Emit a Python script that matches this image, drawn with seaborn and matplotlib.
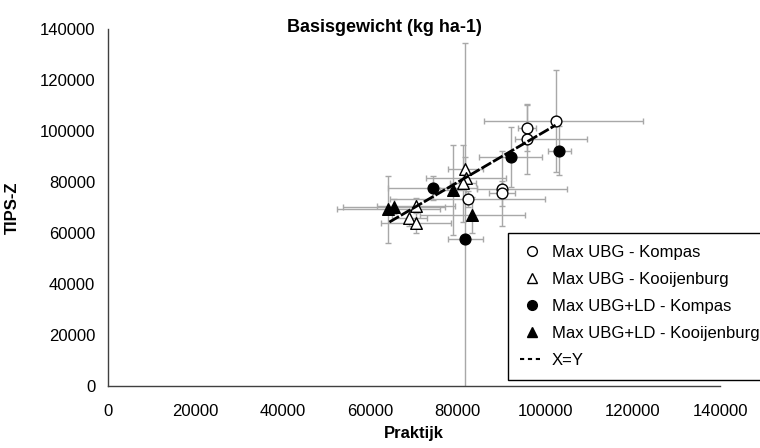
import matplotlib
matplotlib.use("Agg")
import matplotlib.pyplot as plt
from matplotlib.lines import Line2D
import seaborn as sns

# ---------------- data ----------------
# Max UBG - Kompas (open circles)
ubg_kompas_x = [102400, 95900, 95900, 90100, 90100, 82300]
ubg_kompas_y = [103900, 101400, 97000, 77400, 75700, 73400]
ubg_kompas_xerr_lo = [16300, 2000, 2800, 5600, 3000, 17800]
ubg_kompas_xerr_hi = [19900, 2000, 13600, 14900, 3000, 17800]
ubg_kompas_yerr = [20000, 9000, 13700, 14700, 5000, 3000]

# Max UBG - Kooijenburg (open triangles)
ubg_kooij_x = [81700, 81900, 81200, 70500, 68900, 70500]
ubg_kooij_y = [85100, 81600, 79600, 70800, 65900, 64200]
ubg_kooij_xerr = [4000, 9200, 3000, 9000, 4000, 8000]
ubg_kooij_yerr = [5000, 3000, 15000, 3000, 3000, 4000]

# Max UBG+LD - Kompas (filled circles)
ld_kompas_x = [103300, 92100, 74300, 81700]
ld_kompas_y = [92400, 90000, 77700, 57800]
ld_kompas_xerr = [2600, 7100, 10100, 4000]
ld_kompas_yerr = [9500, 11800, 4700, 76700]

# Max UBG+LD - Kooijenburg (filled triangles)
ld_kooij_x = [64200, 65500, 78900, 83400]
ld_kooij_y = [69400, 70400, 77000, 67200]
ld_kooij_xerr = [11700, 11700, 3000, 12100]
ld_kooij_yerr = [13200, 3000, 17600, 7000]

# X=Y reference line
xy_line = [64400, 102400]

x_ticks = [0, 20000, 40000, 60000, 80000, 100000, 120000, 140000]
y_ticks = [0, 20000, 40000, 60000, 80000, 100000, 120000, 140000]

labels = ["Max UBG - Kompas", "Max UBG - Kooijenburg",
          "Max UBG+LD - Kompas", "Max UBG+LD - Kooijenburg", "X=Y"]

# ---------------- figure ----------------
sns.set_style("white")
plt.rcParams["font.family"] = ["Liberation Sans", "DejaVu Sans"]
plt.rcParams["font.size"] = 12
plt.rcParams["text.color"] = "black"
plt.rcParams["axes.labelcolor"] = "black"
plt.rcParams["xtick.color"] = "black"
plt.rcParams["ytick.color"] = "black"

fig = plt.figure(figsize=(7.6, 4.48), dpi=100)
ax = fig.add_axes([107.7 / 760, 1 - 386.3 / 448, (720 - 107.7) / 760, (386.3 - 29.3) / 448])

ecol = "#a8a8a8"
ekw = dict(fmt="none", ecolor=ecol, elinewidth=1.0, capsize=2.5, capthick=1.0, zorder=1)
ax.errorbar(ubg_kompas_x, ubg_kompas_y,
            xerr=[ubg_kompas_xerr_lo, ubg_kompas_xerr_hi],
            yerr=ubg_kompas_yerr, **ekw)
ax.errorbar(ubg_kooij_x, ubg_kooij_y, xerr=ubg_kooij_xerr, yerr=ubg_kooij_yerr, **ekw)
ax.errorbar(ld_kompas_x, ld_kompas_y, xerr=ld_kompas_xerr, yerr=ld_kompas_yerr, **ekw)
ax.errorbar(ld_kooij_x, ld_kooij_y, xerr=ld_kooij_xerr, yerr=ld_kooij_yerr, **ekw)

sns.scatterplot(x=ubg_kompas_x, y=ubg_kompas_y, marker="o", s=60,
                facecolor="white", edgecolor="black", linewidth=1.0, ax=ax, zorder=3)
sns.scatterplot(x=ubg_kooij_x, y=ubg_kooij_y, marker="^", s=70,
                facecolor="white", edgecolor="black", linewidth=1.0, ax=ax, zorder=3)
sns.scatterplot(x=ld_kompas_x, y=ld_kompas_y, marker="o", s=60,
                facecolor="black", edgecolor="black", linewidth=1.0, ax=ax, zorder=3)
sns.scatterplot(x=ld_kooij_x, y=ld_kooij_y, marker="^", s=70,
                facecolor="black", edgecolor="black", linewidth=1.0, ax=ax, zorder=3)

sns.lineplot(x=xy_line, y=xy_line, color="black", linewidth=2.0, ax=ax, zorder=4)
ax.lines[-1].set_dashes([4, 0.8])

ax.set_xlim(0, 140000)
ax.set_ylim(0, 140000)
ax.set_xticks(x_ticks)
ax.set_yticks(y_ticks)
ax.set_xticklabels([str(v) for v in x_ticks])
ax.set_yticklabels([str(v) for v in y_ticks])
for s in ["top", "right"]:
    ax.spines[s].set_visible(False)
for s in ["left", "bottom"]:
    ax.spines[s].set_color("#404040")
    ax.spines[s].set_linewidth(1.0)
ax.tick_params(axis="both", which="major", direction="out", length=4, width=1,
               color="#404040", labelcolor="black", labelsize=12, pad=5)
ax.tick_params(axis="x", pad=9)

ax.set_xlabel("Praktijk", fontweight="bold", fontsize=12, labelpad=5)
ax.set_ylabel("TIPS-Z", fontweight="bold", fontsize=12, labelpad=14)
fig.text(384 / 760, 1 - 27 / 448, "Basisgewicht (kg ha-1)", ha="center", va="center",
         fontweight="bold", fontsize=13)

handles = [
    Line2D([], [], linestyle="none", marker="o", markersize=7, markerfacecolor="white",
           markeredgecolor="black", markeredgewidth=1.0),
    Line2D([], [], linestyle="none", marker="^", markersize=7, markerfacecolor="white",
           markeredgecolor="black", markeredgewidth=1.0),
    Line2D([], [], linestyle="none", marker="o", markersize=7, markerfacecolor="black",
           markeredgecolor="black"),
    Line2D([], [], linestyle="none", marker="^", markersize=7, markerfacecolor="black",
           markeredgecolor="black"),
    Line2D([], [], color="black", linewidth=1.5, dashes=[2, 1.8]),
]
leg = fig.legend(handles, labels, loc="upper left",
                 bbox_to_anchor=(508.3 / 760, 1 - 233.3 / 448), borderaxespad=0,
                 frameon=True, fancybox=False, framealpha=1, edgecolor="black",
                 fontsize=12, borderpad=0.7, labelspacing=0.72,
                 handlelength=1.4, handletextpad=0.5)
leg.get_frame().set_linewidth(1.0)

fig.savefig("out.png", dpi=100)
